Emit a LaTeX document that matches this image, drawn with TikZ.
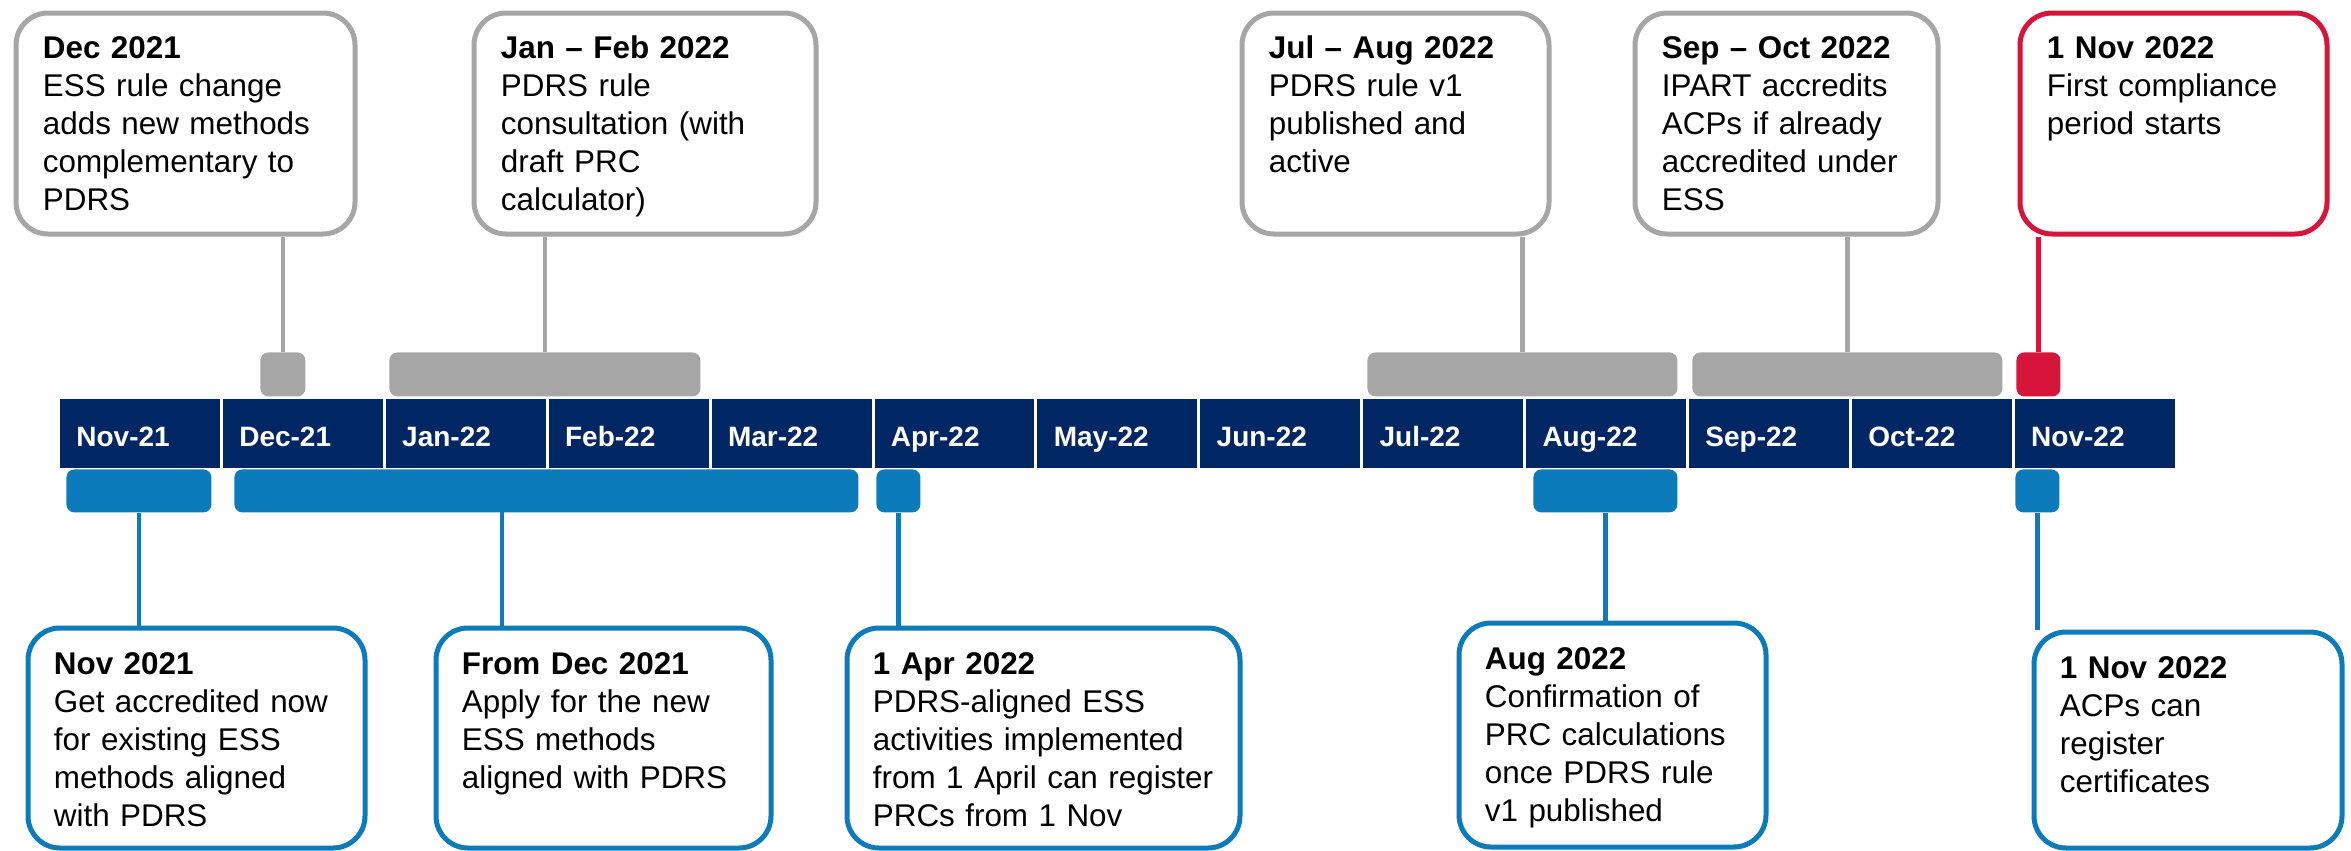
\documentclass[tikz,border=0pt]{standalone}
\usepackage{fontspec}
\setmainfont{Liberation Sans}
\usetikzlibrary{calc}
\definecolor{navy}{HTML}{002664}
\definecolor{tlgray}{HTML}{A6A6A6}
\definecolor{tlblue}{HTML}{0B7BBB}
\definecolor{tlred}{HTML}{D7153A}
\begin{document}
\begin{tikzpicture}[x=0.5pt,y=-0.5pt,
  box/.style={draw, line width=2.5pt, rounded corners=16pt, fill=white, inner sep=0pt, anchor=north west},
  graybox/.style={box, draw=tlgray},
  bluebox/.style={box, draw=tlblue},
  redbox/.style={box, draw=tlred},
  txt/.style={anchor=base west, inner sep=0pt, align=left, text width=200pt, font=\fontsize{15.7}{19}\selectfont},
  bar/.style={inner sep=0pt, anchor=north west, rounded corners=4pt, draw=none},
  cell/.style={inner sep=0pt, anchor=north west, fill=navy, draw=white, line width=1.5pt, minimum width=81.45pt, minimum height=36pt},
  mlabel/.style={anchor=base west, inner sep=0pt, text=white, font=\bfseries\fontsize{14}{16}\selectfont},
  conn/.style={line width=2.2pt}
]
\useasboundingbox (0,0) rectangle (2351,851);

% timeline cells
\foreach \i/\m in {0/Nov-21,1/Dec-21,2/Jan-22,3/Feb-22,4/Mar-22,5/Apr-22,6/May-22,7/Jun-22,8/Jul-22,9/Aug-22,10/Sep-22,11/Oct-22,12/Nov-22}{
  \node[cell] (m\i) at ({57+162.9*\i},396) {};
  \node[mlabel] (ml\i) at ($(m\i.west)+(19,13)$) {\m};
}

% gray / red bars above
\node[bar, fill=tlgray, minimum width=22.5pt, minimum height=22pt] (gDec) at (260,352) {};
\node[bar, fill=tlgray, minimum width=155.5pt, minimum height=22pt] (gJF) at (389,352) {};
\node[bar, fill=tlgray, minimum width=155pt, minimum height=22pt] (gJA) at (1367,352) {};
\node[bar, fill=tlgray, minimum width=155pt, minimum height=22pt] (gSO) at (1692,352) {};
\node[bar, fill=tlred, minimum width=22pt, minimum height=22pt] (rNov) at (2016,352) {};

% blue bars below
\node[bar, fill=tlblue, minimum width=72.5pt, minimum height=21.5pt] (bNov) at (66,469) {};
\node[bar, fill=tlblue, minimum width=312pt, minimum height=21.5pt] (bDM) at (234,469) {};
\node[bar, fill=tlblue, minimum width=22pt, minimum height=21.5pt] (bApr) at (876,469) {};
\node[bar, fill=tlblue, minimum width=72pt, minimum height=21.5pt] (bAug) at (1533,469) {};
\node[bar, fill=tlblue, minimum width=22pt, minimum height=21.5pt] (bNov2) at (2015,469) {};

% top boxes
\node[graybox, minimum width=169.5pt, minimum height=110.5pt] (t1) at (13.5,10.5) {};
\node[graybox, minimum width=171pt, minimum height=110.5pt] (t2) at (471.5,10.5) {};
\node[graybox, minimum width=153.5pt, minimum height=110.5pt] (t3) at (1239.5,10.5) {};
\node[graybox, minimum width=151.5pt, minimum height=110.5pt] (t4) at (1632.5,10.5) {};
\node[redbox, minimum width=153.5pt, minimum height=110.5pt] (t5) at (2017.5,10.5) {};

% bottom boxes
\node[bluebox, minimum width=168.5pt, minimum height=110pt] (b1) at (25.5,625.5) {};
\node[bluebox, minimum width=167.5pt, minimum height=110pt] (b2) at (433.5,625.5) {};
\node[bluebox, minimum width=196.5pt, minimum height=110pt] (b3) at (844.5,625.5) {};
\node[bluebox, minimum width=153.5pt, minimum height=112pt] (b4) at (1456.5,620.5) {};
\node[bluebox, minimum width=154pt, minimum height=108pt] (b5) at (2031.5,629.5) {};

% connectors
\begin{scope}[on background layer/.try]
\end{scope}
\draw[conn, tlgray] (gDec.north) -- (gDec.north |- t1.south);
\draw[conn, tlgray] (gJF.north) -- (gJF.north |- t2.south);
\draw[conn, tlgray] (gJA.north) -- (gJA.north |- t3.south);
\draw[conn, tlgray] (gSO.north) -- (gSO.north |- t4.south);
\draw[conn, tlred] (rNov.north) -- (rNov.north |- t5.south);
\coordinate (dm) at (502,512);
\draw[conn, tlblue] (bNov.south) -- (bNov.south |- b1.north);
\draw[conn, tlblue] (dm) -- (dm |- b2.north);
\draw[conn, tlblue] (bApr.south) -- (bApr.south |- b3.north);
\draw[conn, tlblue] (bAug.south) -- (bAug.south |- b4.north);
\draw[conn, tlblue] (bNov2.south) -- (bNov2.south |- b5.north);

% texts top
\node[txt] (t1x) at ($(t1.north west)+(29,47.5)$) {\textbf{Dec 2021}\\ESS rule change\\adds new methods\\complementary to\\PDRS};
\node[txt] (t2x) at ($(t2.north west)+(29,47.5)$) {\textbf{Jan – Feb 2022}\\PDRS rule\\consultation (with\\draft PRC\\calculator)};
\node[txt] (t3x) at ($(t3.north west)+(29,47.5)$) {\textbf{Jul – Aug 2022}\\PDRS rule v1\\published and\\active};
\node[txt] (t4x) at ($(t4.north west)+(29,47.5)$) {\textbf{Sep – Oct 2022}\\IPART accredits\\ACPs if already\\accredited under\\ESS};
\node[txt] (t5x) at ($(t5.north west)+(29,47.5)$) {\textbf{1 Nov 2022}\\First compliance\\period starts};

% texts bottom
\node[txt] (b1x) at ($(b1.north west)+(28,49)$) {\textbf{Nov 2021}\\Get accredited now\\for existing ESS\\methods aligned\\with PDRS};
\node[txt] (b2x) at ($(b2.north west)+(28,49)$) {\textbf{From Dec 2021}\\Apply for the new\\ESS methods\\aligned with PDRS};
\node[txt] (b3x) at ($(b3.north west)+(28,49)$) {\textbf{1 Apr 2022}\\PDRS-aligned ESS\\activities implemented\\from 1 April can register\\PRCs from 1 Nov};
\node[txt] (b4x) at ($(b4.north west)+(28,49)$) {\textbf{Aug 2022}\\Confirmation of\\PRC calculations\\once PDRS rule\\v1 published};
\node[txt] (b5x) at ($(b5.north west)+(28,49)$) {\textbf{1 Nov 2022}\\ACPs can\\register\\certificates};
\end{tikzpicture}
\end{document}
